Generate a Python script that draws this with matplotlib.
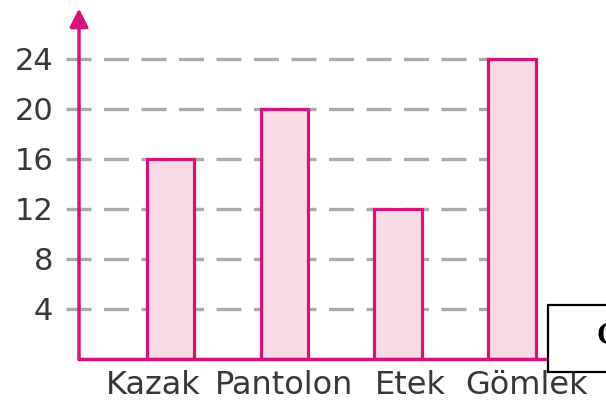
import matplotlib
matplotlib.use("Agg")
import matplotlib.pyplot as plt
from matplotlib.patches import Rectangle
from matplotlib.transforms import ScaledTranslation

plt.rcParams.update({
    "font.family": ["DejaVu Sans"],
    "lines.scale_dashes": False,
})

categories = ["Kazak", "Pantolon", "Etek", "Gömlek"]
values = [16, 20, 12, 24]
yticks = [4, 8, 12, 16, 20, 24]

magenta = "#d6127c"
pink = "#fadae6"
gray = "#ababab"
textcol = "#383838"

W, H = 606, 403
fig = plt.figure(figsize=(W / 100, H / 100), dpi=100)
# axes placed in pixel terms: y axis at x=79, x axis at y=359 from top
ax = fig.add_axes([79 / W, (H - 359) / H, (575 - 79) / W, 350.5 / H])

xs = list(range(len(categories)))
ax.set_xlim(-0.803, 3.55)
ax.set_ylim(0, 28)

# dashed guide lines, starting a bit left of the y axis
ax.hlines(yticks, -0.92, 3.0, colors=gray, linewidth=2.4,
          linestyles=[(0, (18, 9))], clip_on=False, zorder=1)

ax.bar(xs, values, width=0.42, color=pink, edgecolor=magenta,
       linewidth=2.3, zorder=3)

for s in ["top", "right", "left"]:
    ax.spines[s].set_visible(False)
ax.spines["bottom"].set_color(magenta)
ax.spines["bottom"].set_linewidth(2.5)
ax.spines["bottom"].set_zorder(4)

# y axis with arrow head
ax.annotate("", xy=(0, 1.0), xytext=(0, 0), xycoords="axes fraction",
            arrowprops=dict(arrowstyle="-|>,head_length=0.55,head_width=0.28",
                            color=magenta, lw=2.5, mutation_scale=20,
                            shrinkA=0, shrinkB=0), zorder=5)

ax.set_yticks(yticks)
ax.set_yticklabels([str(v) for v in yticks])
ax.tick_params(axis="y", length=0, pad=18.5, labelsize=22, labelcolor=textcol)

ax.set_xticks(xs)
ax.set_xticklabels(categories)
ax.tick_params(axis="x", length=0, pad=8, labelsize=23, labelcolor=textcol)
shifts = [-17, 0, 12, 14]
for lab, dx in zip(ax.get_xticklabels(), shifts):
    lab.set_transform(lab.get_transform() + ScaledTranslation(dx / 100, 0, fig.dpi_scale_trans))

# clipped box at lower right
fig.patches.append(Rectangle((548 / W, (H - 372) / H), 80 / W, 67 / H,
                             transform=fig.transFigure, facecolor="white",
                             edgecolor="black", linewidth=1.6, zorder=10))
fig.text(596 / W, (H - 344) / H, "G", family="Liberation Serif",
         fontweight="bold", fontsize=22, color="black", zorder=11)

fig.savefig("out.png", dpi=100)
